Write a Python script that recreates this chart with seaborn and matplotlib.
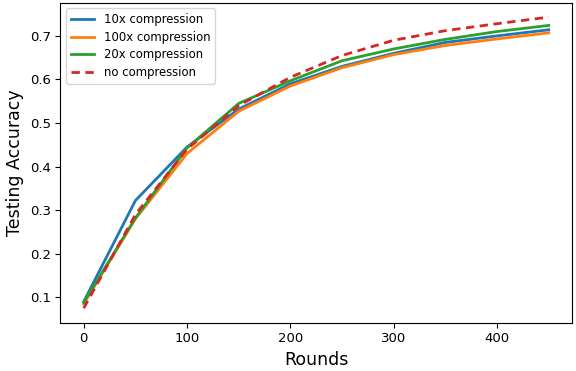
import pandas as pd
import matplotlib
matplotlib.use("Agg")
import matplotlib.pyplot as plt
import seaborn as sns

rounds = [0, 50, 100, 150, 200, 250, 300, 350, 400, 450]
acc_10x = [0.090, 0.322, 0.445, 0.532, 0.590, 0.630, 0.660, 0.685, 0.700, 0.714]
acc_100x = [0.085, 0.280, 0.430, 0.527, 0.585, 0.627, 0.657, 0.678, 0.693, 0.707]
acc_20x = [0.088, 0.282, 0.443, 0.545, 0.597, 0.643, 0.670, 0.692, 0.710, 0.724]
acc_none = [0.075, 0.290, 0.440, 0.540, 0.605, 0.655, 0.690, 0.712, 0.728, 0.743]

labels = ["10x compression", "100x compression", "20x compression", "no compression"]
series = [acc_10x, acc_100x, acc_20x, acc_none]

df = pd.concat([pd.DataFrame({"Rounds": rounds, "acc": s, "method": l})
                for s, l in zip(series, labels)])

fig, ax = plt.subplots(figsize=(5.76, 3.71), dpi=100)
colors = ["#1f77b4", "#ff7f0e", "#2ca02c", "#d62728"]
dashes = {labels[0]: "", labels[1]: "", labels[2]: "", labels[3]: (3, 2)}
sns.lineplot(data=df, x="Rounds", y="acc", hue="method", style="method",
             palette=colors, dashes=dashes, linewidth=2, ax=ax)

ax.set_xlabel("Rounds", fontsize=12.5)
ax.set_ylabel("Testing Accuracy", fontsize=12.5)
ax.set_xticks([0, 100, 200, 300, 400])
ax.set_yticks([0.1, 0.2, 0.3, 0.4, 0.5, 0.6, 0.7])
ax.tick_params(labelsize=9.5)
ax.legend(loc="upper left", fontsize=8.4, labelspacing=0.4)

fig.subplots_adjust(left=0.105, right=0.993, top=0.993, bottom=0.13)
fig.savefig("out.png", dpi=100)
